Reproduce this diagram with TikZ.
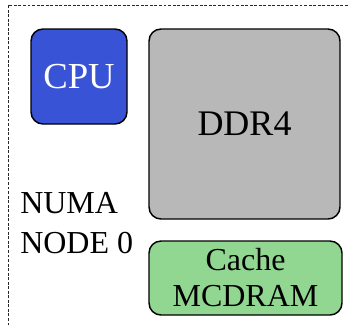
\documentclass[tikz,border=0pt]{standalone}
\usepackage{fontspec}
\setmainfont{Liberation Serif}
\usepackage{tikz}

\tikzset{
	membox/.style={draw, line width=1.1pt, rounded corners=9pt, inner sep=0.75pt, align=center},
}

\begin{document}
\begin{tikzpicture}[x=0.75pt,y=0.75pt,yscale=-1,xscale=1]
	\useasboundingbox (0,0) rectangle (348,325);
	
	%Dashed Border
	\draw [color={rgb, 255:red, 40; green, 40; blue, 40 }, line width=0.7pt, dash pattern=on 2.2pt off 1.2pt]   (8,330) -- (8,5) -- (352,5) ;
	
	%Rounded Rect CPU
	\node (cpu) [membox, fill={rgb, 255:red, 57; green, 83; blue, 214 }, text=white, minimum width=72pt, minimum height=71.25pt, font=\fontsize{27.5}{30}\selectfont] at (79,76.5) {CPU};
	%Rounded Rect DDR4
	\node (ddr) [membox, fill={rgb, 255:red, 184; green, 184; blue, 184 }, minimum width=143.25pt, minimum height=142.5pt, font=\fontsize{27}{30}\selectfont] at (244.5,124) {DDR4};
	%Rounded Rect MCDRAM
	\node (mcdram) [membox, fill={rgb, 255:red, 145; green, 215; blue, 145 }, minimum width=144.75pt, minimum height=55.5pt, font=\fontsize{24}{27}\selectfont] at (245.5,278) {Cache\\MCDRAM};
	
	% Text Node
	\node (numa) [anchor=west, inner sep=0pt, align=left, font=\fontsize{24}{30}\selectfont] at (20,223) {NUMA\\NODE 0};
	
\end{tikzpicture}
\end{document}
